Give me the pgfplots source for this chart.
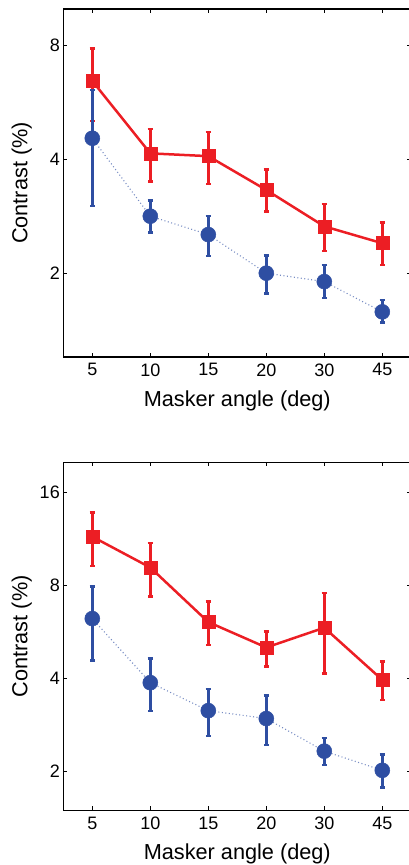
\documentclass[border=0pt]{standalone}
\usepackage{fontspec}
\setmainfont{Liberation Sans}
\usepackage{pgfplots}
\usepackage{pgfplotstable}
\pgfplotsset{compat=1.18}

\definecolor{myred}{RGB}{236,30,36}
\definecolor{myblue}{RGB}{46,78,162}

\pgfplotstableread{
x y ep em
0 6.45 1.42 1.39
1 4.15 0.66 0.65
2 4.08 0.65 0.64
3 3.32 0.44 0.41
4 2.66 0.39 0.37
5 2.40 0.32 0.30
}\topred
\pgfplotstableread{
x y ep em
0 4.55 1.56 1.54
1 2.83 0.28 0.27
2 2.53 0.30 0.31
3 2.00 0.23 0.23
4 1.90 0.20 0.18
5 1.58 0.12 0.10
}\topblue
\pgfplotstableread{
x y ep em
0 11.5 2.26 2.26
1 9.14 1.82 1.77
2 6.09 1.00 0.95
3 5.04 0.64 0.66
4 5.84 1.73 1.68
5 3.96 0.58 0.55
}\botred
\pgfplotstableread{
x y ep em
0 6.25 1.69 1.68
1 3.88 0.76 0.74
2 3.15 0.55 0.54
3 2.97 0.55 0.53
4 2.33 0.24 0.23
5 2.02 0.25 0.24
}\botblue

\begin{document}
\begin{tikzpicture}
\begin{axis}[scale only axis, width=348pt, height=348pt,
    at={(63.3pt,-9pt)}, anchor=north west,
    xmin=-0.5, xmax=5.5,
    ymode=log, log basis y=2,
    ymin=1.2, ymax=10, ytick={2,4,8}, yticklabels={2,4,8},
    xtick={0,1,2,3,4,5}, xticklabels={5,10,15,20,30,45},
    tick align=inside, major tick length=4pt,
    ticklabel style={font=\fontsize{18}{18}\selectfont},
    xticklabel style={yshift=-3pt},
    label style={font=\fontsize{21.7}{24}\selectfont},
    xlabel={Masker angle (deg)}, ylabel={Contrast (\%)},
    xlabel style={at={(axis description cs:0.5,-0.125)}, anchor=center},
    ylabel style={at={(axis description cs:-0.1195,0.5)}, anchor=center},
    axis line style={line width=1.2pt},
    tick style={line width=1pt, black},
    clip=false]
\addplot[myred, line width=2.5pt, mark=square*, mark size=6.5pt,
    mark options={solid, fill=myred, draw=myred, line width=0.5pt},
    error bars/.cd, y dir=both, y explicit,
    error bar style={solid, line width=2.6pt, myred},
    error mark options={rotate=90, mark size=2.6pt, line width=2.6pt, myred}]
  table[x=x, y=y, y error plus=ep, y error minus=em] {\topred};
\addplot[myblue!65, line width=1.1pt, dash pattern=on 1pt off 2.5pt,
    mark=*, mark size=7.5pt,
    mark options={solid, fill=myblue, draw=myblue, line width=0.5pt},
    error bars/.cd, y dir=both, y explicit,
    error bar style={solid, line width=2.6pt, myblue},
    error mark options={rotate=90, mark size=2.6pt, line width=2.6pt, myblue}]
  table[x=x, y=y, y error plus=ep, y error minus=em] {\topblue};
\end{axis}
\begin{axis}[scale only axis, width=348pt, height=348pt,
    at={(63.3pt,-462.3pt)}, anchor=north west,
    xmin=-0.5, xmax=5.5,
    ymode=log, log basis y=2,
    ymin=1.5, ymax=20, ytick={2,4,8,16}, yticklabels={2,4,8,16},
    xtick={0,1,2,3,4,5}, xticklabels={5,10,15,20,30,45},
    tick align=inside, major tick length=4pt,
    ticklabel style={font=\fontsize{18}{18}\selectfont},
    xticklabel style={yshift=-3pt},
    label style={font=\fontsize{21.7}{24}\selectfont},
    xlabel={Masker angle (deg)}, ylabel={Contrast (\%)},
    xlabel style={at={(axis description cs:0.5,-0.125)}, anchor=center},
    ylabel style={at={(axis description cs:-0.1195,0.5)}, anchor=center},
    axis line style={line width=1.2pt},
    tick style={line width=1pt, black},
    clip=false]
\addplot[myred, line width=2.5pt, mark=square*, mark size=6.5pt,
    mark options={solid, fill=myred, draw=myred, line width=0.5pt},
    error bars/.cd, y dir=both, y explicit,
    error bar style={solid, line width=2.6pt, myred},
    error mark options={rotate=90, mark size=2.6pt, line width=2.6pt, myred}]
  table[x=x, y=y, y error plus=ep, y error minus=em] {\botred};
\addplot[myblue!65, line width=1.1pt, dash pattern=on 1pt off 2.5pt,
    mark=*, mark size=7.5pt,
    mark options={solid, fill=myblue, draw=myblue, line width=0.5pt},
    error bars/.cd, y dir=both, y explicit,
    error bar style={solid, line width=2.6pt, myblue},
    error mark options={rotate=90, mark size=2.6pt, line width=2.6pt, myblue}]
  table[x=x, y=y, y error plus=ep, y error minus=em] {\botblue};
\end{axis}
\pgfresetboundingbox
\path[use as bounding box] (0,0) rectangle (409pt,-865pt);
\end{tikzpicture}
\end{document}
